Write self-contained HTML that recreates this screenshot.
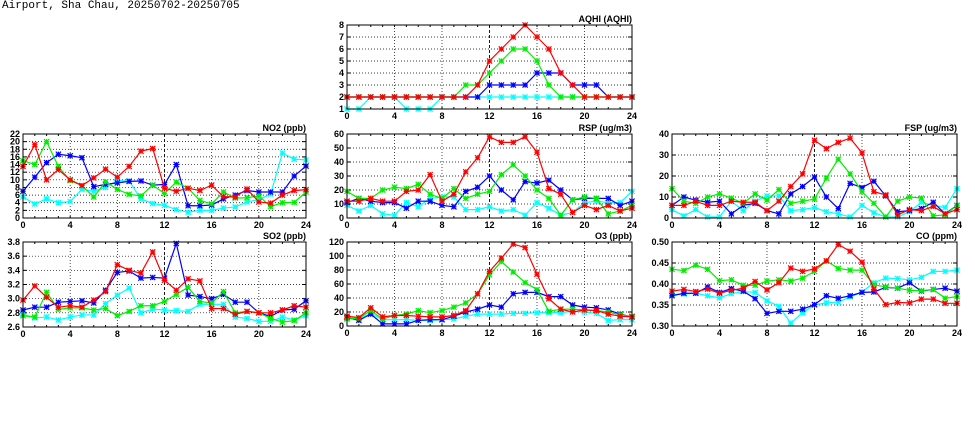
<!DOCTYPE html>
<html><head><meta charset="utf-8"><style>
html,body{margin:0;padding:0;background:#fff;}
#t{position:absolute;left:2px;top:0px;font:11px "Liberation Mono",monospace;color:#000;}
svg{position:absolute;left:0;top:0;}
text{font-family:"Liberation Sans",sans-serif;font-size:9px;font-weight:bold;}
</style></head><body>
<div id="t">Airport, Sha Chau, 20250702-20250705</div>
<svg id="s" width="975" height="447"></svg>
<script>
const hours=[0,1,2,3,4,5,6,7,8,9,10,11,12,13,14,15,16,17,18,19,20,21,22,23,24];
const xTicks=[0,4,8,12,16,20,24];
const seriesColors=["#ff0000","#00ee00","#0000ff","#00ffff"];
const aqhiRed=[2,2,2,2,2,2,2,2,2,2,2,3,5,6,7,8,7,6,4,3,2,2,2,2,2];
const aqhiGreen=[2,2,2,2,2,2,2,2,2,2,3,3,4,5,6,6,5,3,2,2,2,2,2,2,2];
const aqhiBlue=[2,2,2,2,2,2,2,2,2,2,2,2,3,3,3,3,4,4,4,3,3,3,2,2,2];
const aqhiCyan=[1,1,2,2,2,1,1,1,2,2,2,2,2,2,2,2,2,2,2,2,2,2,2,2,2];
const aqhiTicks=[1,2,3,4,5,6,7,8];
const no2Red=[13.5,19.2,10,12.7,10,8.5,10.5,12.8,10.7,13.5,17.5,18.2,7.8,7,7.8,7.2,8.6,5.6,5.5,7.6,4.2,3.9,6,7.2,7.4];
const no2Green=[15,14,20,13.5,9.8,8.5,5.5,9.5,7.5,6.2,5.8,8.6,6.4,9.4,7.8,4.6,3.7,6.8,5.2,5.3,5.8,3,4,4.1,6.8];
const no2Blue=[7,10.7,14.5,16.7,16.3,15.8,8.2,8.8,9.2,9.6,9.7,8.6,8.8,14,3.2,3.2,3.4,5,6,7.2,6.8,6.8,6.8,11,13.6];
const no2Cyan=[5.5,3.7,5,4,4.3,7.5,7,8,9.8,9.7,5,3.8,3.3,2.2,1.5,2,2,2.6,2.9,4.2,4.8,6.3,17,15.4,15.2];
const no2Ticks=[0,2,4,6,8,10,12,14,16,18,20,22];
const rspRed=[12,12,14,12,12,19,20,31,12,17,33,43,58,54,54,58,47,21,17,4,9,6,9,5,7];
const rspGreen=[19,14,14,20,22,21,24,17,14,21,14,17,19,31,38,30,20,14,2,13,15,14,3,5,9];
const rspBlue=[11,14,12,11,11,7,12,12,9,8,19,22,30,20,13,26,25,27,20,13,14,14,14,9,12];
const rspCyan=[9,5,9,3,2,11,8,14,15,15,6,6,8,5,6,2,11,7,2,4,11,12,11,11,19];
const rspTicks=[0,10,20,30,40,50,60];
const fspRed=[6,6,8,6,6,8,7.5,7.5,3.5,8,15,21,37,33,36,38,31,12.5,11,1.5,4,3.5,5.5,2,4];
const fspGreen=[14,8,7,10,11.5,9.5,7,11.5,8.5,13.5,7,8,9,19,28,21,12.5,7,0.5,8,10,9.5,1,1.5,6];
const fspBlue=[6,10,8.5,7.5,8,2,6,7,3.5,2,11.5,15,19.5,10,4.5,16.5,14.5,17.5,10.5,3,3.5,4.5,7.5,2,6];
const fspCyan=[4,1,4,0.5,0.5,8,3.5,8,10.5,10.5,3.5,4,5,3,2,0.5,6,2.5,0.5,0.5,3,7.5,6,5,14];
const fspTicks=[0,10,20,30,40];
const so2Red=[2.98,3.18,3.02,2.88,2.9,2.88,2.98,3.1,3.48,3.4,3.36,3.66,3.26,3.12,3.28,3.25,2.86,2.86,2.78,2.82,2.8,2.8,2.84,2.9,2.88];
const so2Green=[2.76,2.74,3.09,2.85,2.87,2.87,2.84,2.86,2.76,2.82,2.9,2.9,2.96,3.06,3.16,2.96,2.94,3.1,2.8,2.82,2.8,2.72,2.67,2.69,2.8];
const so2Blue=[2.84,2.88,2.88,2.95,2.96,2.97,2.94,3.12,3.37,3.39,3.29,3.3,3.29,3.78,3.05,3.03,3,3.06,2.95,2.95,2.8,2.75,2.84,2.85,2.97];
const so2Cyan=[2.78,2.73,2.74,2.7,2.74,2.77,2.77,2.93,3.05,3.15,2.8,2.85,2.84,2.83,2.82,2.92,2.92,2.92,2.74,2.72,2.68,2.68,2.74,2.7,2.76];
const so2Ticks=[2.6,2.8,3.0,3.2,3.4,3.6,3.8];
const o3Red=[14,12,26,13,15,15,14,13,13,15,22,46,78,97,117,112,74,39,24,20,23,22,17,14,13];
const o3Green=[10,11,22,10,15,17,22,19,22,27,33,46,73,92,77,62,52,21,24,24,23,22,20,16,14];
const o3Blue=[12,8,17,3,3,3,8,9,9,14,20,24,30,27,46,48,48,42,42,30,27,26,23,17,13];
const o3Cyan=[13,10,18,9,9,9,8,8,9,10,14,17,17,17,18,18,19,19,19,21,20,18,8,9,9];
const o3Ticks=[0,20,40,60,80,100,120];
const coRed=[.383,.387,.382,.388,.378,.385,.39,.406,.386,.403,.438,.43,.436,.455,.494,.478,.452,.388,.351,.356,.355,.364,.364,.354,.354];
const coGreen=[.435,.432,.445,.435,.408,.41,.397,.397,.407,.41,.407,.414,.43,.455,.437,.433,.433,.398,.393,.39,.385,.384,.387,.366,.37];
const coBlue=[.372,.378,.378,.393,.38,.389,.383,.365,.33,.335,.335,.34,.351,.372,.366,.372,.38,.381,.392,.39,.403,.383,.387,.39,.383];
const coCyan=[.375,.376,.378,.372,.367,.377,.382,.38,.36,.347,.307,.332,.35,.355,.357,.369,.381,.403,.414,.413,.41,.416,.43,.43,.433];
const coTicks=[0.30,0.35,0.40,0.45,0.50];

const NS="http://www.w3.org/2000/svg";
const svg=document.getElementById('s');
function mk(tag,attrs,parent){const e=document.createElementNS(NS,tag);for(const k in attrs)e.setAttribute(k,attrs[k]);(parent||svg).appendChild(e);return e;}

function panel(name,title,x0,x1,y0,y1,ticks,dec,series){
  const g=mk('g',{});
  
  
  const ymin=ticks[0],ymax=ticks[ticks.length-1];
  const xs=h=>x0+(h/24)*(x1-x0);
  const ys=v=>y1-(v-ymin)/(ymax-ymin)*(y1-y0);
  ticks.forEach(v=>{
    if(v!==ymin&&v!==ymax){const l=mk('line',{x1:x0,x2:x1,y1:ys(v),y2:ys(v),stroke:'#000','stroke-width':0.7,'stroke-dasharray':'1,2'},g);
    }
    const t=mk('text',{x:x0-3,y:ys(v)+3,'text-anchor':'end'},g);
    
    t.textContent=v.toFixed(dec);
    mk('line',{x1:x0,x2:x0+4,y1:ys(v),y2:ys(v),stroke:'#000'},g);
    mk('line',{x1:x1,x2:x1-4,y1:ys(v),y2:ys(v),stroke:'#000'},g);
  });
  hours.forEach(h=>{
    mk('line',{x1:xs(h),x2:xs(h),y1:y1,y2:y1-2,stroke:'#000'},g);
    mk('line',{x1:xs(h),x2:xs(h),y1:y0,y2:y0+2,stroke:'#000'},g);
  });
  xTicks.forEach(h=>{
    if(h!==0&&h!==24){const l=mk('line',{x1:xs(h),x2:xs(h),y1:y0,y2:y1,stroke:'#000','stroke-width':h===12?0.9:0.7,'stroke-dasharray':h===12?'3,2':'1,2'},g);
    }
    const t=mk('text',{x:xs(h),y:y1+10,'text-anchor':'middle'},g);
    
    t.textContent=h;
  });
  const tt=mk('text',{x:x1,y:y0-3,'text-anchor':'end'},g);
  
  tt.textContent=title;
  const inner=mk('svg',{x:x0-4,y:y0-4,width:x1-x0+8,height:y1-y0+8,overflow:'hidden'},g);
  for(let si=series.length-1;si>=0;si--){
    const vals=series[si];
    const c=seriesColors[si];
    const pts=vals.map((v,i)=>(xs(hours[i])-x0+4)+','+(ys(v)-y0+4)).join(' ');
    const pl=mk('polyline',{points:pts,fill:'none',stroke:c,'stroke-width':1.2},inner);
    
    vals.forEach((v,i)=>{
      const px=xs(hours[i])-x0+4,py=ys(v)-y0+4,r=2.6;
      const m=mk('path',{d:`M${px-r},${py-r}L${px+r},${py+r}M${px-r},${py+r}L${px+r},${py-r}M${px-r},${py}L${px+r},${py}M${px},${py-r}L${px},${py+r}`,stroke:c,'stroke-width':1.2,fill:'none'},inner);
      
    });
  }
  const f=mk('rect',{x:x0,y:y0,width:x1-x0,height:y1-y0,fill:'none',stroke:'#000','stroke-width':1},g);
  
}
panel('aqhi','AQHI (AQHI)',347,632,25,109,aqhiTicks,0,[aqhiRed,aqhiGreen,aqhiBlue,aqhiCyan]);
panel('no2','NO2 (ppb)',23,306,134,218,no2Ticks,0,[no2Red,no2Green,no2Blue,no2Cyan]);
panel('rsp','RSP (ug/m3)',347,632,134,218,rspTicks,0,[rspRed,rspGreen,rspBlue,rspCyan]);
panel('fsp','FSP (ug/m3)',672,957,134,218,fspTicks,0,[fspRed,fspGreen,fspBlue,fspCyan]);
panel('so2','SO2 (ppb)',23,306,242,327,so2Ticks,1,[so2Red,so2Green,so2Blue,so2Cyan]);
panel('o3','O3 (ppb)',347,632,242,326,o3Ticks,0,[o3Red,o3Green,o3Blue,o3Cyan]);
panel('co','CO (ppm)',672,957,242,326,coTicks,2,[coRed,coGreen,coBlue,coCyan]);
</script>
</body></html>
